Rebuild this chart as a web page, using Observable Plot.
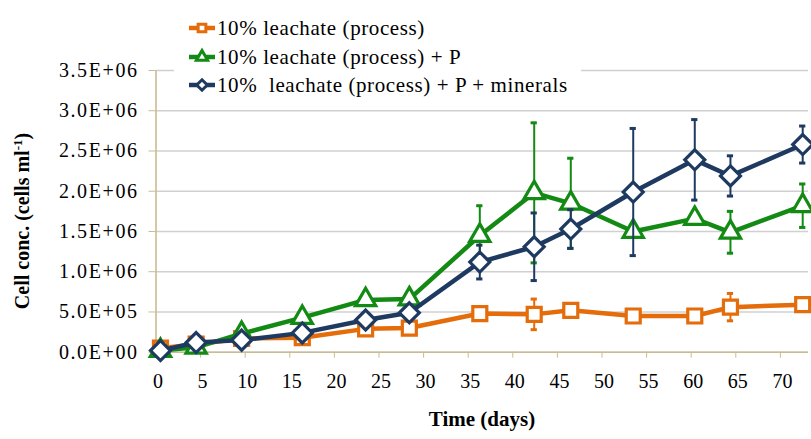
<!DOCTYPE html>
<html>
<head>
<meta charset="utf-8">
<script src="https://cdn.jsdelivr.net/npm/d3@7"></script>
<script src="https://cdn.jsdelivr.net/npm/@observablehq/plot@0.6"></script>
<style>
  html, body { margin: 0; padding: 0; background: #fff; }
  #chart svg { display: block; }
  #chart svg text, #chart svg tspan { font-family: "Liberation Serif", "Times New Roman", serif !important; }
</style>
</head>
<body>
<div id="chart"></div>
<script>
// ---- data ----
const days = [0.5, 4.5, 9.6, 16.4, 23.5, 28.4, 36.3, 42.4, 46.5, 53.5, 60.4, 64.4, 72.5];
const seriesNames = [
  "10% leachate (process)",
  "10% leachate (process) + P",
  "10%  leachate (process) + P + minerals"
];
const orangeVals = [0.05e6, 0.10e6, 0.17e6, 0.18e6, 0.29e6, 0.30e6, 0.48e6, 0.47e6, 0.52e6, 0.45e6, 0.45e6, 0.56e6, 0.59e6];
const orangeErr  = [0.02e6, 0.01e6, 0.02e6, 0.02e6, 0.02e6, 0.02e6, 0.03e6, 0.19e6, 0.02e6, 0.04e6, 0.02e6, 0.17e6, 0.02e6];
const greenVals  = [0.02e6, 0.06e6, 0.23e6, 0.43e6, 0.65e6, 0.66e6, 1.45e6, 1.98e6, 1.85e6, 1.50e6, 1.66e6, 1.49e6, 1.82e6];
const greenErr   = [0, 0, 0.02e6, 0.03e6, 0.03e6, 0.03e6, 0.37e6, 0.87e6, 0.56e6, 0.05e6, 0.05e6, 0.26e6, 0.27e6];
const blueVals   = [0.02e6, 0.12e6, 0.15e6, 0.24e6, 0.40e6, 0.49e6, 1.12e6, 1.31e6, 1.53e6, 1.99e6, 2.39e6, 2.19e6, 2.58e6];
const blueErr    = [0.01e6, 0.01e6, 0.02e6, 0.03e6, 0.03e6, 0.03e6, 0.21e6, 0.42e6, 0.24e6, 0.79e6, 0.50e6, 0.25e6, 0.23e6];
const xTicks = [0, 5, 10, 15, 20, 25, 30, 35, 40, 45, 50, 55, 60, 65, 70];
const yTicks = [0, 0.5e6, 1.0e6, 1.5e6, 2.0e6, 2.5e6, 3.0e6, 3.5e6];
const xTitle = "Time (days)";
const yTitleMain = "Cell conc. (cells ml";
const yTitleSup = "-1";
const yTitleEnd = ")";

// ---- styles ----
const colors = ["#e46c0a", "#138a13", "#1f3a60"];
const symbols = ["square", "triangle", "diamond2"];
const symbolR = [7.9, 7.5, 9.0];
const axisColor = "#c9bc93";
const gridColor = "#d0d0d0";

function sci(v) {
  if (v === 0) return "0.0E+00";
  const e = Math.floor(Math.log10(v) + 1e-9);
  const m = v / Math.pow(10, e);
  return m.toFixed(1) + "E" + (e >= 0 ? "+" : "-") + String(Math.abs(e)).padStart(2, "0");
}

const seriesVals = [orangeVals, greenVals, blueVals];
const seriesErr = [orangeErr, greenErr, blueErr];
const tables = seriesVals.map((vals, s) =>
  days.map((d, i) => ({day: d, v: vals[i], e: seriesErr[s][i]}))
);

const marks = [
  Plot.gridY(yTicks, {stroke: gridColor, strokeOpacity: 1, strokeWidth: 1.4}),
  Plot.ruleY([0], {stroke: axisColor, strokeWidth: 1.6}),
  Plot.ruleX([0], {stroke: axisColor, strokeWidth: 1.6}),
  Plot.axisY({ticks: yTicks, tickFormat: sci, tickSize: 7, tickPadding: 12, stroke: axisColor, label: null, fontSize: 20}),
  Plot.axisX({ticks: xTicks, tickSize: 6, tickPadding: 16, stroke: axisColor, label: null, fontSize: 20})
];

tables.forEach((t, s) => {
  const c = colors[s];
  const withErr = t.filter(d => d.e > 0);
  marks.push(
    Plot.ruleX(withErr, {x: "day", y1: d => d.v - d.e, y2: d => d.v + d.e, stroke: c, strokeWidth: 2}),
    Plot.ruleY(withErr, {y: d => d.v + d.e, x1: d => d.day - 0.35, x2: d => d.day + 0.35, stroke: c, strokeWidth: 3}),
    Plot.ruleY(withErr, {y: d => d.v - d.e, x1: d => d.day - 0.35, x2: d => d.day + 0.35, stroke: c, strokeWidth: 3}),
    Plot.line(t, {x: "day", y: "v", stroke: c, strokeWidth: 4.5}),
    Plot.dot(t, {x: "day", y: "v", symbol: () => symbols[s], r: symbolR[s], fill: "white", stroke: c, strokeWidth: 3.2})
  );
});

const chart = Plot.plot({
  width: 811,
  height: 439,
  marginLeft: 155.5,
  marginRight: 3,
  marginTop: 70,
  marginBottom: 87.3,
  style: {fontFamily: "'Liberation Serif', 'Times New Roman', serif", fontSize: "20px", color: "#000", background: "#fff"},
  x: {domain: [0, 73.15]},
  y: {domain: [0, 3.5e6]},
  symbol: {type: "identity"},
  marks
});

const svg = d3.select(chart);
svg.selectAll("[aria-label='y-axis tick label'] text, [aria-label='x-axis tick label'] text").attr("fill", "#000");
svg.selectAll("[aria-label='y-axis tick label'] text").style("letter-spacing", "1.6px").attr("dx", 1.6);
svg.selectAll("[aria-label='x-axis tick label'] text").attr("dx", 2);

// axis titles
svg.append("text")
  .attr("x", 482).attr("y", 426)
  .attr("text-anchor", "middle")
  .attr("font-weight", "bold")
  .attr("font-size", 21)
  .attr("fill", "#000")
  .text(xTitle);

const yt = svg.append("text")
  .attr("transform", "translate(29,221) rotate(-90)")
  .attr("text-anchor", "middle")
  .attr("font-weight", "bold")
  .attr("font-size", 20)
  .attr("fill", "#000");
yt.append("tspan").text(yTitleMain);
yt.append("tspan").attr("font-size", 13).attr("dy", -7).text(yTitleSup);
yt.append("tspan").attr("dy", 7).text(yTitleEnd);

// legend
const lg = svg.append("g").attr("aria-label", "legend").attr("text-anchor", "start");
lg.append("rect").attr("x", 174).attr("y", 2).attr("width", 407).attr("height", 98).attr("fill", "#fff");
const rowsY = [28, 57, 85];
const legendSym = [d3.symbolSquare, d3.symbolTriangle, d3.symbolDiamond2];
const legendSize = [60, 55, 70];
seriesNames.forEach((name, s) => {
  const y = rowsY[s];
  lg.append("line").attr("x1", 189).attr("x2", 215).attr("y1", y).attr("y2", y)
    .attr("stroke", colors[s]).attr("stroke-width", 4.5);
  lg.append("path").attr("d", d3.symbol(legendSym[s], legendSize[s])())
    .attr("transform", `translate(202,${y})`)
    .attr("fill", "#fff").attr("stroke", colors[s]).attr("stroke-width", 3);
  lg.append("text").attr("x", 217).attr("y", y).attr("dy", "0.35em")
    .attr("text-anchor", "start")
    .attr("font-size", 21).attr("fill", "#000")
    .style("white-space", "pre").style("letter-spacing", "0.6px")
    .text(name);
});

document.getElementById("chart").appendChild(chart);
</script>
</body>
</html>
